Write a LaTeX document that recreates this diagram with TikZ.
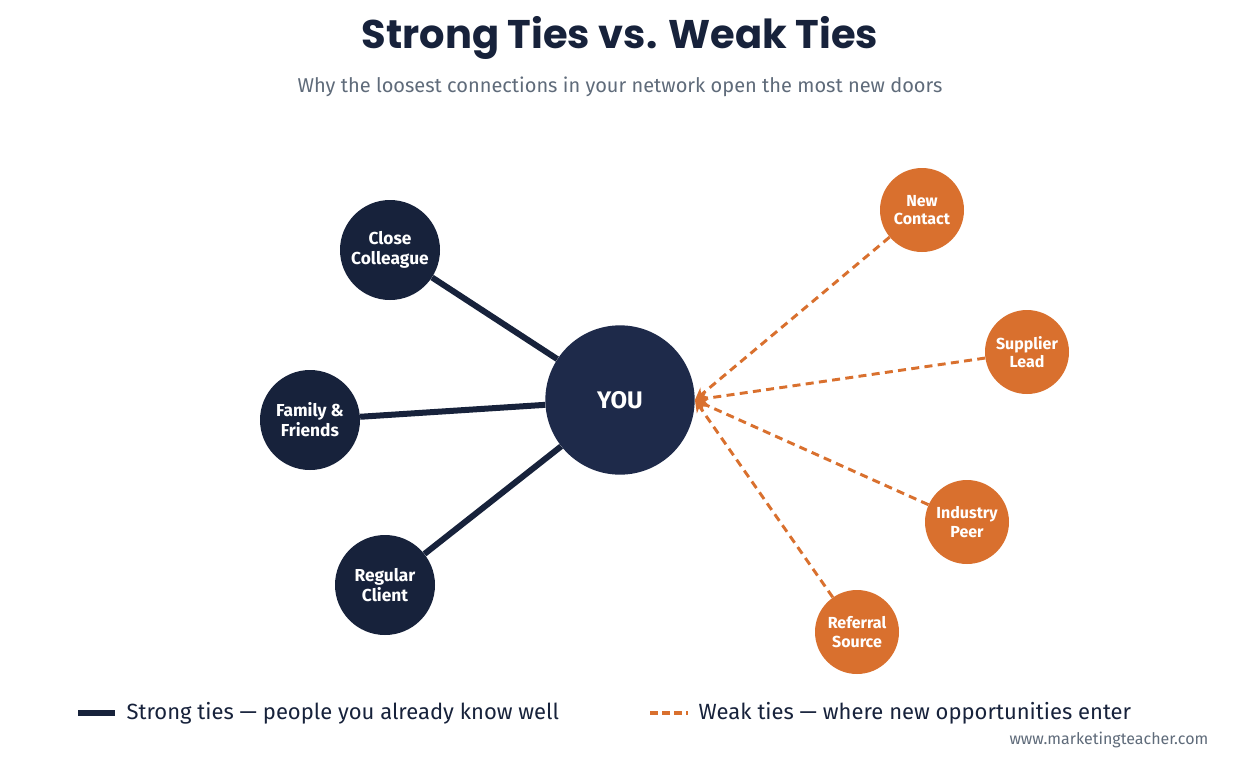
\documentclass[tikz,border=0pt]{standalone}
\usepackage{fontspec}
\setmainfont{Fira Sans}
\newfontfamily\titlefont{Poppins}
\usetikzlibrary{arrows.meta}
\definecolor{navy}{HTML}{17223B}
\definecolor{younavy}{HTML}{1E2A4A}
\definecolor{orng}{HTML}{D9702E}
\definecolor{sub}{HTML}{5F6B7A}
\begin{document}
\begin{tikzpicture}[x=0.75pt,y=-0.75pt,
 strong/.style={circle,fill=navy,minimum size=75pt,inner sep=0pt,align=center,text=white,font=\fontsize{13}{15}\selectfont\bfseries},
 weak/.style={circle,fill=orng,minimum size=63pt,inner sep=0pt,align=center,text=white,font=\fontsize{12}{14}\selectfont\bfseries},
 sline/.style={navy,line width=4.5pt},
 wline/.style={orng,line width=2.2pt,dash pattern=on 6pt off 4pt,-{Stealth[length=9pt,width=9pt]}}]
\useasboundingbox[fill=white] (0,0) rectangle (1240,769);
\node[font=\titlefont\fontsize{30}{34}\selectfont\bfseries,text=navy] (title) at (620,38) {Strong Ties vs. Weak Ties};
\node[font=\fontsize{15}{18}\selectfont,text=sub] (subt) at (620,87) {Why the loosest connections in your network open the most new doors};
\node[circle,fill=younavy,minimum size=112pt,inner sep=0pt,text=white,font=\fontsize{18}{20}\selectfont\bfseries] (you) at (620,400) {YOU};
\node[strong] (cc) at (390,250) {Close\\Colleague};
\node[strong] (ff) at (310,420) {Family \&\\Friends};
\node[strong] (rc) at (385,585) {Regular\\Client};
\node[weak] (nc) at (922,210) {New\\Contact};
\node[weak] (sl) at (1027,352) {Supplier\\Lead};
\node[weak] (ip) at (967,522) {Industry\\Peer};
\node[weak] (rs) at (857,632) {Referral\\Source};
\begin{scope}[on background layer/.try]
\end{scope}
\draw[sline] (cc) -- (you);
\draw[sline] (ff) -- (you);
\draw[sline] (rc) -- (you);
\draw[wline] (nc) -- (you.east);
\draw[wline] (sl) -- (you.east);
\draw[wline] (ip) -- (you.east);
\draw[wline] (rs) -- (you.east);
\coordinate (l1a) at (78,713); \coordinate (l1b) at (115,713);
\draw[sline] (l1a) -- (l1b);
\node[anchor=west,font=\fontsize{16.5}{19}\selectfont,text=navy] (lt1) at (122,713) {Strong ties — people you already know well};
\coordinate (l2a) at (650,713); \coordinate (l2b) at (688,713);
\draw[orng,line width=3.5pt,dash pattern=on 6pt off 3pt] (l2a) -- (l2b);
\node[anchor=west,font=\fontsize{16.5}{19}\selectfont,text=navy] (lt2) at (694,713) {Weak ties — where new opportunities enter};
\node[anchor=east,font=\fontsize{12}{14}\selectfont,text=sub] (foot) at (1213,740) {www.marketingteacher.com};
\end{tikzpicture}
\end{document}
